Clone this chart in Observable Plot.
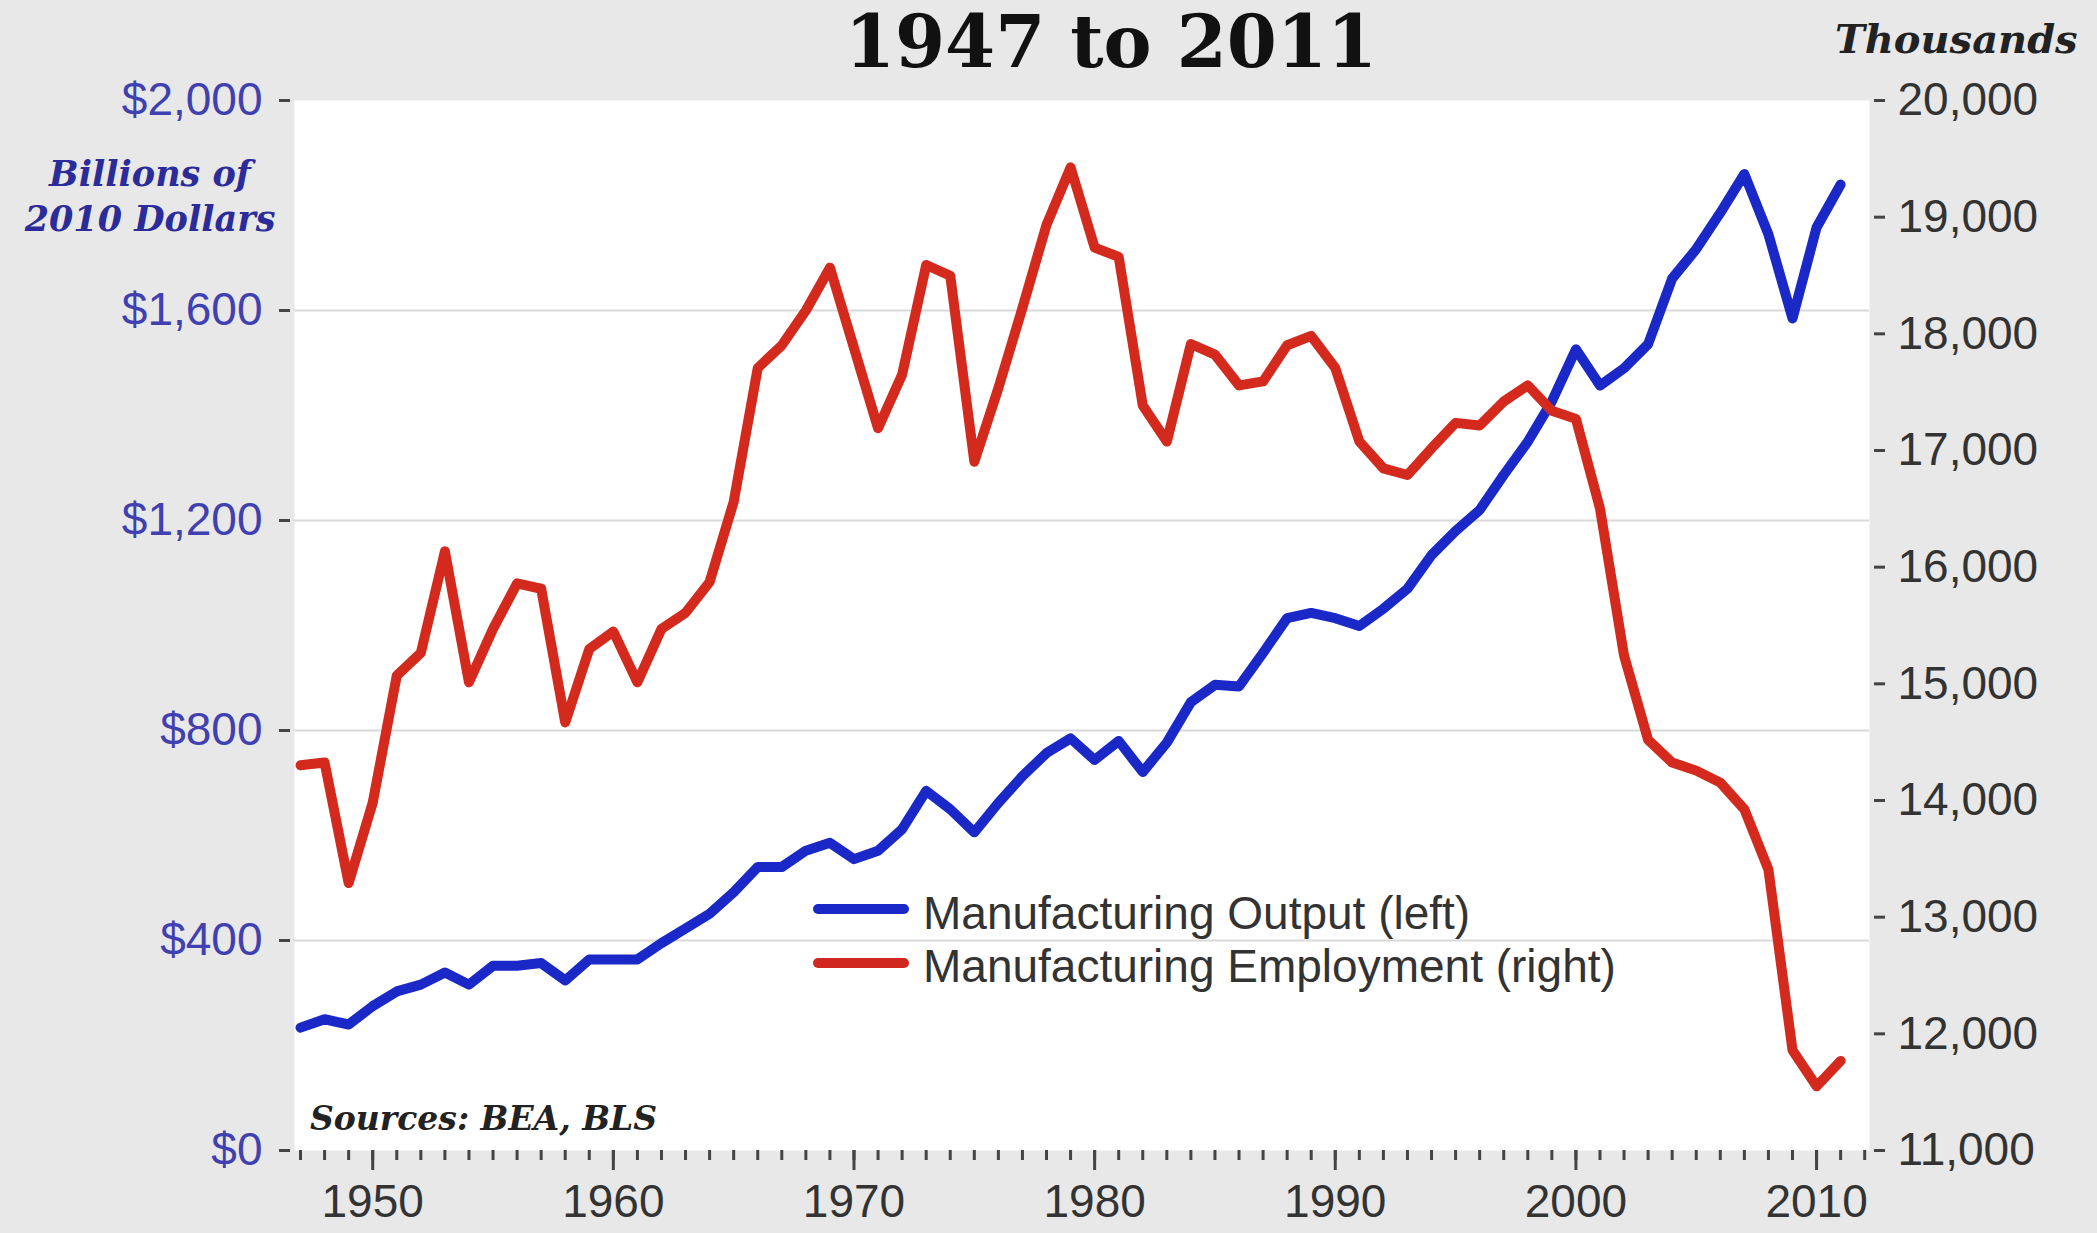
<!DOCTYPE html>
<html>
<head>
<meta charset="utf-8">
<script src="https://cdn.jsdelivr.net/npm/d3@7"></script>
<script src="https://cdn.jsdelivr.net/npm/@observablehq/plot@0.6"></script>
<style>
html, body { margin: 0; padding: 0; background: #e8e8e8; }
#wrap { position: relative; width: 2097px; height: 1233px; background: #e8e8e8; overflow: hidden; }
#wrap svg { position: absolute; left: 0; top: 0; }
.abs { position: absolute; white-space: nowrap; }
.serif { font-family: "DejaVu Serif", "Liberation Serif", serif; font-weight: bold; }
.sans { font-family: "Liberation Sans", Arial, sans-serif; }
</style>
</head>
<body>
<div id="wrap">
  <div class="abs serif" style="left:0;width:2222px;top:6px;font-size:72px;line-height:72px;text-align:center;color:#111;">1947 to 2011</div>
  <div class="abs serif" style="left:1835px;top:19px;font-size:40px;line-height:40px;font-style:italic;color:#222;">Thousands</div>
  <div class="abs serif" style="left:0;width:300px;top:151px;font-size:35px;line-height:45px;font-style:italic;text-align:center;color:#2b2b9a;">Billions of<br>2010 Dollars</div>
  <div class="abs serif" style="left:310px;top:1102px;font-size:33px;line-height:33px;font-style:italic;color:#222;">Sources: BEA, BLS</div>
  <div class="abs" style="left:813px;top:904px;width:96px;height:10px;border-radius:5px;background:#1a28c8;"></div>
  <div class="abs" style="left:813px;top:958px;width:96px;height:10px;border-radius:5px;background:#d0281e;"></div>
  <div class="abs sans" style="left:923px;top:886px;font-size:46px;line-height:54px;color:#333;">Manufacturing Output (left)</div>
  <div class="abs sans" style="left:923px;top:939px;font-size:46px;line-height:54px;color:#333;">Manufacturing Employment (right)</div>
</div>
<script>
// ---- Data ----
const years = [1947,1948,1949,1950,1951,1952,1953,1954,1955,1956,
  1957,1958,1959,1960,1961,1962,1963,1964,1965,1966,
  1967,1968,1969,1970,1971,1972,1973,1974,1975,1976,
  1977,1978,1979,1980,1981,1982,1983,1984,1985,1986,
  1987,1988,1989,1990,1991,1992,1993,1994,1995,1996,
  1997,1998,1999,2000,2001,2002,2003,2004,2005,2006,
  2007,2008,2009,2010,2011];

// Manufacturing output, billions of 2010 dollars (left axis)
const outputBillions = [234,250,240,275,303,316,339,316,352,352,
  357,324,364,364,364,395,423,451,492,540,
  540,571,586,555,571,612,685,650,606,662,
  713,757,785,744,780,721,777,854,887,884,
  948,1014,1024,1014,999,1032,1070,1134,1180,1220,
  1287,1350,1427,1526,1457,1490,1536,1661,1717,1786,
  1860,1745,1585,1758,1840];

// Manufacturing employment, thousands (right axis)
const employmentThousands = [14302,14325,13293,13981,15070,15265,16136,15013,15471,15861,
  15815,14669,15299,15448,15013,15471,15609,15873,16560,17707,
  17902,18200,18567,17879,17191,17650,18590,18498,16904,17535,
  18223,18934,19427,18739,18659,17386,17077,17913,17822,17558,
  17592,17902,17982,17707,17077,16847,16790,17019,17237,17214,
  17420,17558,17340,17271,16503,15242,14520,14325,14256,14153,
  13924,13408,11860,11550,11768];

const leftTicks = [0, 400, 800, 1200, 1600, 2000];
const gridTicks = [400, 800, 1200, 1600];
const rightTicks = [11000, 12000, 13000, 14000, 15000, 16000, 17000, 18000, 19000, 20000];
const decadeTicks = [1950, 1960, 1970, 1980, 1990, 2000, 2010];
const yearTicks = [...years, 2012];

// ---- Dual-axis mapping: employment -> left scale ----
const leftMax = 2000, rightMin = 11000, rightMax = 20000;
const toLeft = e => (e - rightMin) * leftMax / (rightMax - rightMin);
const fromLeft = v => v * (rightMax - rightMin) / leftMax + rightMin;

const outputData = years.map((y, i) => ({year: y, value: outputBillions[i]}));
const employmentData = years.map((y, i) => ({year: y, value: toLeft(employmentThousands[i])}));

const BLUE = "#1a28c8", RED = "#d42a1e";

const chart = Plot.plot({
  width: 2097,
  height: 1233,
  marginLeft: 294,
  marginRight: 228,
  marginTop: 100,
  marginBottom: 83,
  style: {
    background: "transparent",
    fontFamily: "'Liberation Sans', Arial, sans-serif",
    fontSize: "46px",
    overflow: "visible"
  },
  x: {domain: [1946.75, 2012.2]},
  y: {domain: [0, 2000]},
  marks: [
    Plot.frame({fill: "white", stroke: "none"}),
    Plot.gridY({ticks: gridTicks, stroke: "#d9d9d9", strokeOpacity: 1, strokeWidth: 2}),
    Plot.axisY({anchor: "left", ticks: leftTicks, tickFormat: d => "$" + d3.format(",")(d),
      tickSize: 11, tickPadding: 17, dx: -4, stroke: "#444", strokeWidth: 3, fill: "#4040b0", label: null}),
    Plot.axisY({anchor: "right", ticks: rightTicks.map(toLeft),
      tickFormat: v => d3.format(",")(Math.round(fromLeft(v))),
      tickSize: 11, tickPadding: 13, dx: 4, stroke: "#444", strokeWidth: 3, fill: "#333", label: null}),
    Plot.axisX({anchor: "bottom", ticks: yearTicks, tickSize: 10, stroke: "#444", strokeWidth: 3, fill: "none", label: null}),
    Plot.axisX({anchor: "bottom", ticks: decadeTicks, tickFormat: d => String(d), tickSize: 20, tickPadding: 14,
      stroke: "#444", strokeWidth: 3, fill: "#333", label: null}),
    Plot.line(outputData, {x: "year", y: "value", stroke: BLUE, strokeWidth: 10, strokeLinejoin: "round"}),
    Plot.line(employmentData, {x: "year", y: "value", stroke: RED, strokeWidth: 10, strokeLinejoin: "round"})
  ]
});
document.getElementById("wrap").prepend(chart);
</script>
</body>
</html>
